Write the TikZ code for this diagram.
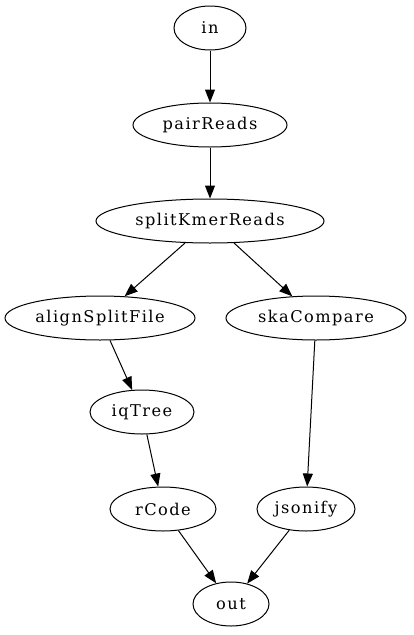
\documentclass[tikz,border=0pt]{standalone}
\usepackage{fontspec}
\setmainfont{DejaVu Serif}[LetterSpace=9]
\usepackage{tikz}
\usetikzlibrary{shapes.geometric, arrows.meta}

\begin{document}
\begin{tikzpicture}[x=1pt, y=-1pt,
  proc/.style={draw, ellipse, line width=1pt, minimum height=44pt, inner sep=0pt, font=\fontsize{16.2}{18}\selectfont},
  flow/.style={draw, line width=1pt, -{Triangle[length=13pt,width=10pt]}}
]
\useasboundingbox (0,0) rectangle (413,635);
\node[proc, minimum width=72pt] (in) at (210,28) {in};
\node[proc, minimum width=154pt] (pairReads) at (210,125) {pairReads};
\node[proc, minimum width=228pt] (splitKmerReads) at (210,221) {splitKmerReads};
\node[proc, minimum width=190pt] (alignSplitFile) at (100,318) {alignSplitFile};
\node[proc, minimum width=180pt] (skaCompare) at (316,318) {skaCompare};
\node[proc, minimum width=104pt] (iqTree) at (142,412) {iqTree};
\node[proc, minimum width=106pt] (rCode) at (163,509) {rCode};
\node[proc, minimum width=98pt] (jsonify) at (306,509) {jsonify};
\node[proc, minimum width=76pt] (out) at (231,604) {out};

\draw[flow] (in) -- (pairReads);
\draw[flow] (pairReads) -- (splitKmerReads);
\draw[flow] (splitKmerReads) -- (alignSplitFile);
\draw[flow] (splitKmerReads) -- (skaCompare);
\draw[flow] (alignSplitFile) -- (iqTree);
\draw[flow] (iqTree) -- (rCode);
\draw[flow] (skaCompare) -- (jsonify);
\draw[flow] (rCode) -- (out);
\draw[flow] (jsonify) -- (out);
\end{tikzpicture}
\end{document}
